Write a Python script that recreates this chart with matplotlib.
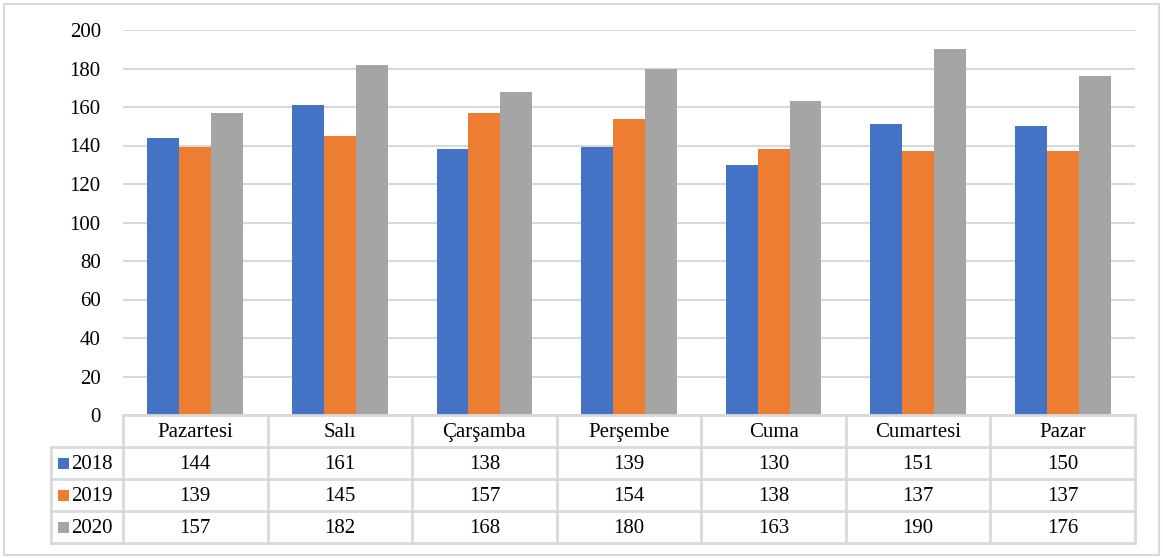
import matplotlib.pyplot as plt
import numpy as np
from matplotlib.patches import Rectangle

days = ['Pazartesi', 'Salı', 'Çarşamba', 'Perşembe', 'Cuma', 'Cumartesi', 'Pazar']
years = ['2018', '2019', '2020']
v2018 = [144, 161, 138, 139, 130, 151, 150]
v2019 = [139, 145, 157, 154, 138, 137, 137]
v2020 = [157, 182, 168, 180, 163, 190, 176]
colors = ['#4472C4', '#ED7D31', '#A5A5A5']
yticks = [0, 20, 40, 60, 80, 100, 120, 140, 160, 180, 200]

plt.rcParams['font.family'] = ['Liberation Serif', 'DejaVu Serif']
W, H = 1163, 558
fig = plt.figure(figsize=(W / 100, H / 100), dpi=100)
grid = '#D9D9D9'
fs = 15

def box(x0, y0, x1, y1):
    # pixel box (top-left origin) -> figure fraction rect
    return [x0 / W, 1 - y1 / H, (x1 - x0) / W, (y1 - y0) / H]

# outer chart border
fig.patches.append(Rectangle((4 / W, 3 / H), 1155 / W, 551 / H, transform=fig.transFigure,
                             fill=False, edgecolor=grid, lw=1.5))

ax = fig.add_axes(box(123, 30, 1135, 415))
series = [v2018, v2019, v2020]
x = np.arange(len(days))
bw = 0.221
for i, vals in enumerate(series):
    ax.bar(x + (i - 1) * bw, vals, bw, color=colors[i], zorder=3)
ax.set_xlim(-0.5, len(days) - 0.5)
ax.set_ylim(0, 200)
ax.set_yticks(yticks)
ax.set_yticklabels([str(t) for t in yticks], fontsize=fs)
ax.tick_params(axis='y', length=0, pad=16)
ax.set_xticks([])
ax.grid(axis='y', color=grid, lw=1.5, zorder=0)
for s in ax.spines.values():
    s.set_visible(False)

# data table under the bars
tax = fig.add_axes(box(51, 415, 1135, 543))
lab = 72 / ((1135 - 123) / 7)
tax.set_xlim(-0.5 - lab, len(days) - 0.5)
tax.set_ylim(4, 0)
tax.axis('off')
lk = dict(color=grid, lw=2, clip_on=False)
tax.plot([-0.5, len(days) - 0.5], [0, 0], **lk)
for r in range(1, 5):
    tax.plot([-0.5 - lab, len(days) - 0.5], [r, r], **lk)
for c in range(len(days) + 1):
    tax.plot([c - 0.5, c - 0.5], [0, 4], **lk)
tax.plot([-0.5 - lab, -0.5 - lab], [1, 4], **lk)

for j, d in enumerate(days):
    tax.text(j, 0.55, d, ha='center', va='center', fontsize=fs)
for i, vals in enumerate(series):
    for j, v in enumerate(vals):
        tax.text(j, i + 1.55, str(v), ha='center', va='center', fontsize=fs)
    sx = -0.5 - lab + 7 / 144.6
    tax.add_patch(Rectangle((sx, i + 1.35), 11 / 144.6, 0.34, color=colors[i], lw=0))
    tax.text(sx + 13 / 144.6, i + 1.55, years[i], ha='left', va='center', fontsize=fs)

fig.savefig('out.png', dpi=100)
